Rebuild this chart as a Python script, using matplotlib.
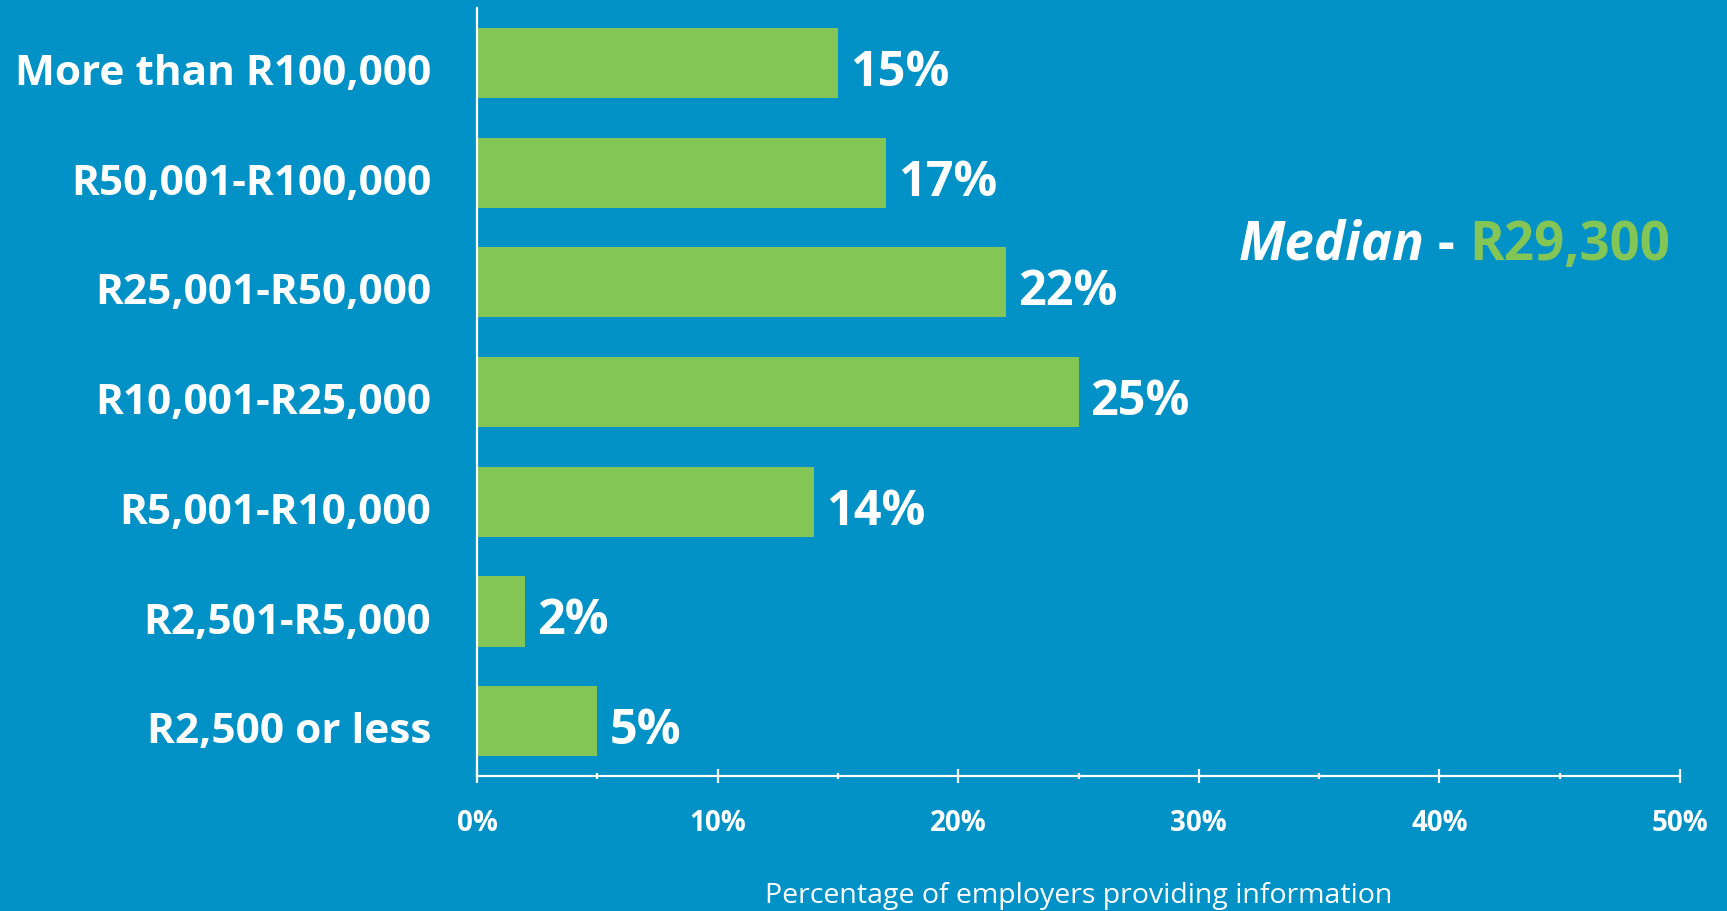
import matplotlib.pyplot as plt
from matplotlib.ticker import MultipleLocator
from matplotlib.transforms import ScaledTranslation

bg = '#0091c6'
green = '#84c656'

bands = ['More than R100,000', 'R50,001-R100,000', 'R25,001-R50,000',
         'R10,001-R25,000', 'R5,001-R10,000', 'R2,501-R5,000', 'R2,500 or less']
shares = [15, 17, 22, 25, 14, 2, 5]
xticks = [0, 10, 20, 30, 40, 50]
median_label = 'R29,300'

plt.rcParams['font.family'] = ['Open Sans', 'DejaVu Sans']

fig = plt.figure(figsize=(17.27, 9.12), dpi=100, facecolor=bg)
ax = fig.add_axes([0.2762, 0.148, 0.6966, 0.842])
ax.set_facecolor(bg)

ypos = list(range(len(bands)))[::-1]
ax.barh(ypos, shares, height=0.64, color=green, zorder=2)

for y, v in zip(ypos, shares):
    ax.text(v + 0.5, y - 0.2, f'{v}%', va='baseline', ha='left', color='white',
            fontsize=35, fontweight='bold')

ax.set_ylim(-0.5, 6.5)
ax.set_xlim(0, 50)
ax.set_yticks(ypos)
ax.set_yticklabels(bands, fontsize=30.5, fontweight='bold', color='white')
ax.tick_params(axis='y', length=0, pad=33)
shift = ScaledTranslation(0, -4 / 72, fig.dpi_scale_trans)
for lab in ax.get_yticklabels():
    lab.set_transform(lab.get_transform() + shift)

ax.set_xticks(xticks)
ax.set_xticklabels([f'{t}%' for t in xticks], fontsize=20, fontweight='bold', color='white')
ax.xaxis.set_minor_locator(MultipleLocator(5))
ax.tick_params(axis='x', which='major', direction='inout', length=10, width=1.6,
               color='white', pad=18)
ax.tick_params(axis='x', which='minor', direction='inout', length=5, width=1.6,
               color='white')

for s in ['top', 'right']:
    ax.spines[s].set_visible(False)
for s in ['left', 'bottom']:
    ax.spines[s].set_color('white')
    ax.spines[s].set_linewidth(1.6)

ax.set_xlabel('Percentage of employers providing information', fontsize=20.5,
              color='white', labelpad=32)

# "Median - R29,300" built from three runs placed one after another
t = fig.text(0.717, 0.715, 'Median', color='white', fontsize=38, fontstyle='italic',
             fontweight='bold', ha='left', va='baseline')
for s, c in [(' - ', 'white'), (median_label, green)]:
    fig.canvas.draw()
    ext = t.get_window_extent()
    x = ext.x1 / fig.bbox.width
    t = fig.text(x, 0.715, s, color=c, fontsize=38,
                 fontweight='bold', ha='left', va='baseline')

fig.savefig('out.png', dpi=100, facecolor=bg)
